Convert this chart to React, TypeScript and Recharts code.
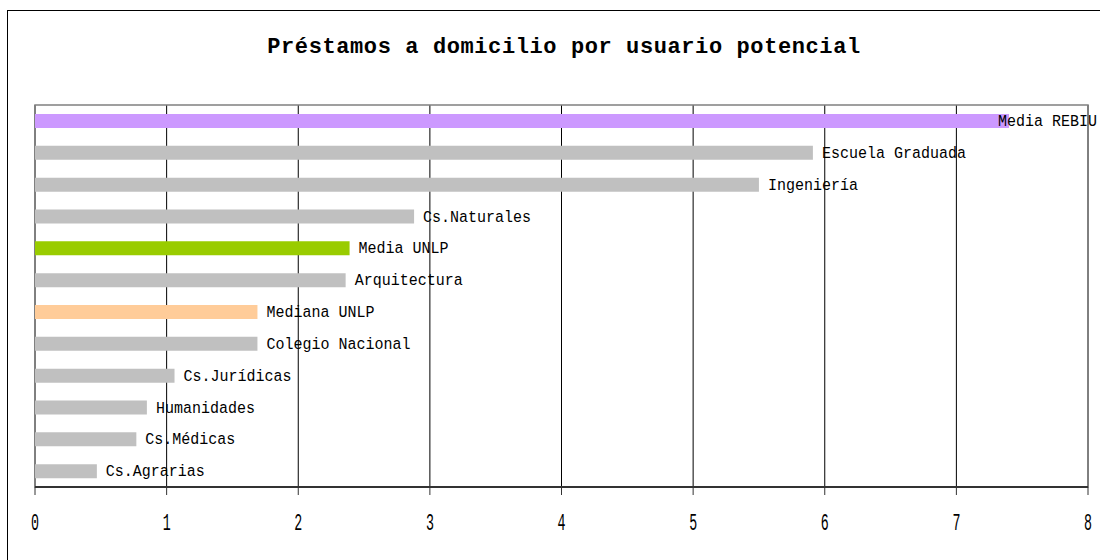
import React from "react";
import { BarChart, Bar, XAxis, YAxis, CartesianGrid, Cell, LabelList, ReferenceArea } from "recharts";

const categories = [
  "Media REBIU",
  "Escuela Graduada",
  "Ingeniería",
  "Cs.Naturales",
  "Media UNLP",
  "Arquitectura",
  "Mediana UNLP",
  "Colegio Nacional",
  "Cs.Jurídicas",
  "Humanidades",
  "Cs.Médicas",
  "Cs.Agrarias",
];
const values = [7.4, 5.91, 5.5, 2.88, 2.39, 2.36, 1.69, 1.69, 1.06, 0.85, 0.77, 0.47];
const xTicks = [0, 1, 2, 3, 4, 5, 6, 7, 8];
const title = "Préstamos a domicilio por usuario potencial";

const specialColors: Record<string, string> = {
  "Media REBIU": "#CC99FF",
  "Media UNLP": "#99CC00",
  "Mediana UNLP": "#FFCC99",
};
const defaultColor = "#C0C0C0";

const data = categories.map((name, i) => ({ name, value: values[i] }));

const FONT = "'Liberation Mono', 'DejaVu Sans Mono', monospace";

const BarLabel = (props: any) => {
  const { x, y, width, height, value } = props;
  const charW = 9;
  const w = String(value).length * charW;
  let lx = Number(x) + Number(width) + 9;
  const maxRight = 1097;
  if (lx + w > maxRight) lx = maxRight - w;
  const cy = Number(y) + Number(height) / 2;
  return (
    <g transform={`translate(${lx},${cy + 5}) scale(1,1.12)`}>
      <text
        x={0}
        y={0}
        fontFamily={FONT}
        fontSize={15}
        fill="#000"
        textLength={w}
        lengthAdjust="spacingAndGlyphs"
      >
        {value}
      </text>
    </g>
  );
};

const Tick = (props: any) => {
  const { x, y, payload } = props;
  return (
    <g transform={`translate(${x},${y + 33}) scale(0.7,1.3)`}>
      <text x={0} y={0} textAnchor="middle" fontFamily={FONT} fontSize={19} fill="#000">
        {payload.value}
      </text>
    </g>
  );
};

export default function App() {
  return (
    <div style={{ position: "fixed", left: 0, top: 0, width: 1100, height: 560, overflow: "hidden", background: "#fff" }}>
      <div style={{ position: "absolute", left: 0, top: 0 }}>
        <BarChart
          width={1100}
          height={560}
          data={data}
          layout="vertical"
          margin={{ top: 105, right: 12, bottom: 0, left: 35 }}
        >
          <CartesianGrid horizontal={false} vertical={true} stroke="#000" strokeWidth={1} />
          <ReferenceArea x1={0} x2={8} fill="none" stroke="#808080" strokeWidth={1.5} ifOverflow="visible" />
          <XAxis
            type="number"
            domain={[0, 8]}
            ticks={xTicks}
            interval={0}
            height={73}
            axisLine={{ stroke: "#333", strokeWidth: 2 }}
            tickLine={{ stroke: "#333" }}
            tickSize={8}
            tick={<Tick />}
          />
          <YAxis type="category" dataKey="name" hide />
          <Bar dataKey="value" barSize={14} isAnimationActive={false}>
            {data.map((d) => (
              <Cell key={d.name} fill={specialColors[d.name] || defaultColor} />
            ))}
            <LabelList dataKey="name" content={<BarLabel />} />
          </Bar>
        </BarChart>
      </div>
      <svg
        width={1100}
        height={560}
        style={{ position: "absolute", left: 0, top: 0, pointerEvents: "none" }}
      >
        <rect x={7.5} y={10.5} width={1200} height={700} fill="none" stroke="#000" strokeWidth={1} />
        <text
          x={564}
          y={53}
          textAnchor="middle"
          fontFamily={FONT}
          fontWeight="bold"
          fontSize={22}
          letterSpacing={0.6}
          fill="#000"
        >
          {title}
        </text>
      </svg>
    </div>
  );
}
